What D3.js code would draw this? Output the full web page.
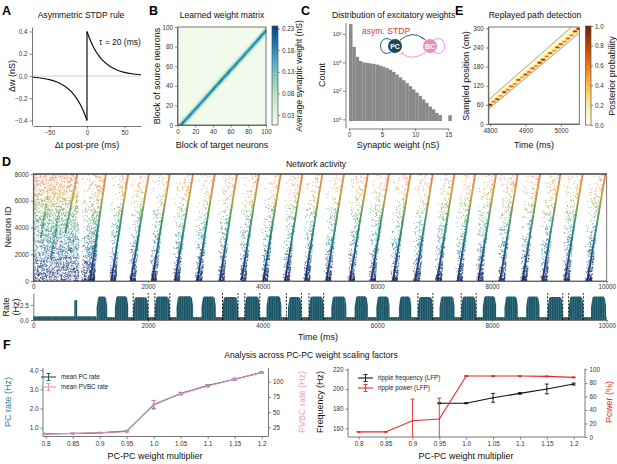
<!DOCTYPE html>
<html><head><meta charset="utf-8">
<script src="https://cdn.jsdelivr.net/npm/d3@7"></script>
<style>
body{margin:0;background:#fff}
svg{display:block}
</style></head><body>
<svg id="fig" width="617" height="464"></svg>
<script>
// ================= DATA =================
// A: STDP rule
const stdpNegT  = [-72,-60,-50,-40,-30,-20,-15,-10,-5,-2,0];
const stdpNegDw = [-0.011,-0.02,-0.033,-0.054,-0.089,-0.147,-0.189,-0.243,-0.312,-0.362,-0.4];
const stdpPosT  = [0,2,5,10,15,20,30,40,50,60,72];
const stdpPosDw = [0.4,0.362,0.312,0.243,0.189,0.147,0.089,0.054,0.033,0.02,0.011];
const stdpTicksX = [-50,0,50];
const stdpTicksY = [-0.4,-0.2,0,0.2,0.4];

// B: weight matrix band profile (target - source offset -> avg weight)
const bandOffsets = [-2,-1,0,1,2,3,4,5,6,7,8,9];
const bandWeights = [0.022,0.035,0.06,0.1,0.15,0.19,0.2,0.17,0.12,0.08,0.05,0.03];
const matrixBaseline = 0.013;
const matrixTicks = [0,20,40,60,80,100];
const weightCbTicks = [0.03,0.08,0.13,0.18,0.23];

// C: histogram of excitatory weights (0.5 nS bins, log10 counts)
const histBinStart = [0,0.5,1,1.5,2,2.5,3,3.5,4,4.5,5,5.5,6,6.5,7,7.5,8,8.5,9,9.5,10,10.5,11,11.5,12,12.5,13,13.5,15];
const histLog10Count = [6.7,5.1,4.4,4.1,4.0,3.97,3.93,3.9,3.85,3.78,3.7,3.6,3.48,3.33,3.15,2.95,2.75,2.55,2.33,2.1,1.88,1.65,1.4,1.15,0.9,0.7,0.45,0.3,0.28];
const histTicksX = [0,5,10,15];
const histTicksY = [1,1e2,1e4,1e6];

// E: replay posterior
const replayT   = [4800,4810,4820,4830,4840,4850,4860,4870,4880,4890,4900,4910,4920,4930,4940,4950,4960,4970,4980,4990,5000,5010,5020,5030,5040,5050];
const replayPos = [60,70,78,88,100,108,118,126,138,146,155,163,174,182,192,202,212,222,230,240,250,258,268,278,290,298];
const replayP   = [0.95,0.6,0.8,0.5,0.85,0.6,0.7,0.55,0.75,0.5,0.8,0.6,0.7,0.55,0.85,0.9,0.6,0.75,0.5,0.8,0.7,0.55,0.65,0.6,0.85,0.95];
const boundUpper = [[4795,75],[5030,304]];
const boundLower = [[4795,46],[5052,285]];
const replayTicksX = [4800,4900,5000];
const replayTicksY = [0,60,120,180,240,300];
const postTicks = [0,0.2,0.4,0.6,0.8,1.0];

// D: network activity
const seqStart = [990,1360,1700,2070,2470,2860,3250,3630,4010,4390,4740,5110,5520,5890,6270,6660,7040,7400,7760,8140,8530,8880,9270,9660];
const seqEnd   = [1266,1655,2015,2381,2787,3165,3554,3937,4315,4693,5041,5418,5836,6202,6580,6968,7346,7707,8072,8449,8839,9193,9581,9977];
const cloudLeft= [820,1320,1660,2030,2430,2820,3210,3590,3970,4350,4700,5070,5480,5850,6230,6620,7000,7360,7720,8100,8490,8840,9230,9620];
const cloudDots= [1000,420,400,400,400,400,400,400,400,400,400,400,400,400,400,400,400,400,400,400,400,400,400,400];
const earlyRegion = [0, 800, 780, 3000]; // tStart, tEnd at bottom, tEnd at top, dot count
const partialSeq = [[560,3600,767,8000],[300,1600,450,5200],[130,3200,250,6400]];
const burstStart = [1104,1423,1742,2120,2498,2933,3300,3688,4066,4442,4808,5198,5604,5982,6376,6707,7085,7463,7839,8217,8595,8971,9337,9727];
const burstEnd   = [1289,1655,2003,2381,2787,3183,3571,3949,4327,4676,5064,5459,5836,6213,6592,6968,7346,7724,8072,8449,8827,9233,9593,9988];
const burstPeak  = [3.9,3.95,3.8,3.9,3.95,3.9,3.85,3.9,3.95,3.85,3.9,3.9,3.95,3.9,3.9,3.85,3.9,3.9,3.95,3.9,3.9,3.85,3.9,3.9];
const rateBaseline = [[0,1100,0.62],[1100,10000,0.48]];
const rateSpike = [715,765,3.3];
const detStart = [1742,2120,3300,3688,4414,4808,6707,7463,8971,9337];
const detEnd   = [2003,2381,3571,3949,4676,5064,6968,7724,9233,9593];
const timeTicks = [0,2000,4000,6000,8000,10000];
const idTicks = [0,2000,4000,6000,8000];
const rateTicks = [0,2.5];

// F: scaling analysis
const mult = [0.8,0.85,0.9,0.95,1.0,1.05,1.1,1.15,1.2];
const pcRate = [0.68,0.7,0.73,0.82,2.2,2.78,3.2,3.52,3.88];
const pcErr  = [0.02,0.02,0.02,0.03,0.22,0.06,0.05,0.05,0.03];
const pvbcRate = [14,15,16,18,63,80,93,104,115];
const pvbcErr  = [1,1,1,1.5,6,2,2,2,1];
const rippleFreq    = [null,null,null,185.5,185.5,191,195.5,200,205];
const rippleFreqErr = [0,0,0,0.5,0.5,4.5,0.8,5,1];
const ripplePower    = [7.5,7.5,24,26.5,90,90,90,89.5,88];
const ripplePowerErr = [0.5,0.5,32,31,0.5,0.5,0.5,0.5,0.7];
const multTicks = [0.8,0.85,0.9,0.95,1.0,1.05,1.1,1.15,1.2];
const multLabels = ["0.8","0.85","0.9","0.95","1.0","1.05","1.1","1.15","1.2"];
const pcTicks = [1,2,3,4], pvbcTicks = [25,50,75,100];
const freqTicks = [160,180,200,220], powerTicks = [0,20,40,60,80,100];

// ================= DRAWING =================
const FONT = '"Liberation Sans", Arial, Helvetica, sans-serif';
const svg = d3.select("#fig").attr("font-family", FONT);
const defs = svg.append("defs");
const TICK = 6.3, LAB = 9, TITLE = 8.6;
const fmtInt = d3.format("d");

function text(x,y,s,o={}){
  const t = svg.append("text").attr("x",x).attr("y",y).text(s)
    .attr("font-size",o.size||LAB).attr("fill",o.color||"#111")
    .attr("text-anchor",o.anchor||"middle");
  if(o.bold) t.attr("font-weight","bold");
  return t;
}
function vtext(x,y,s,o={}){
  return svg.append("text").attr("transform",`translate(${x},${y}) rotate(-90)`)
    .attr("text-anchor","middle").attr("dominant-baseline","central")
    .attr("font-size",o.size||LAB).attr("fill",o.color||"#111").text(s);
}
function styleAxis(g){
  g.attr("font-family",FONT).attr("font-size",TICK).attr("color","#333");
  g.selectAll(".domain").attr("stroke","#555").attr("stroke-width",0.8);
  g.selectAll(".tick line").attr("stroke","#555").attr("stroke-width",0.7);
  return g;
}
function axis(gen, tx, ty){
  return styleAxis(svg.append("g").attr("transform",`translate(${tx},${ty})`).call(gen));
}

// Panel letters
[["A",2,15],["B",149,15],["C",301,15],["E",455,15],["D",2,166],["F",3,349]].forEach(([l,x,y])=>
  text(x,y,l,{size:12.5,bold:true,anchor:"start",color:"#000"}));

// ---------- A ----------
{
  const x = d3.scaleLinear().domain([-72,72]).range([33,141]);
  const y = d3.scaleLinear().domain([-0.44,0.44]).range([125,27]);
  svg.append("line").attr("x1",x(-72)).attr("x2",x(72)).attr("y1",y(0)).attr("y2",y(0))
    .attr("stroke","#ccc").attr("stroke-width",0.9);
  const line = d3.line().x(d=>x(d[0])).y(d=>y(d[1])).curve(d3.curveMonotoneX);
  svg.append("path").attr("d",line(d3.zip(stdpNegT,stdpNegDw))).attr("fill","none").attr("stroke","#111").attr("stroke-width",1.2);
  svg.append("path").attr("d",line(d3.zip(stdpPosT,stdpPosDw))).attr("fill","none").attr("stroke","#111").attr("stroke-width",1.2);
  svg.append("line").attr("x1",x(0)).attr("x2",x(0)).attr("y1",y(stdpNegDw[stdpNegDw.length-1])).attr("y2",y(stdpPosDw[0]))
    .attr("stroke","#111").attr("stroke-width",1.2);
  axis(d3.axisLeft(y).tickValues(stdpTicksY).tickFormat(d3.format(".1f")).tickSize(2.5).tickSizeOuter(0).tickPadding(2),32,0);
  axis(d3.axisBottom(x).tickValues(stdpTicksX).tickFormat(fmtInt).tickSize(2.5).tickSizeOuter(0).tickPadding(2),0,126);
  text(81,18,"Asymmetric STDP rule",{size:TITLE});
  text(99,45,"τ = 20 (ms)",{size:8.5,anchor:"start"});
  vtext(12,76,"Δw (nS)");
  text(87,148,"Δt post-pre (ms)");
}

// ---------- B ----------
{
  const x = d3.scaleLinear().domain([0,100]).range([177.5,266]);
  const y = d3.scaleLinear().domain([0,100]).range([125,27]);
  const c = d3.scaleSequential(d3.interpolateGnBu).domain([0.007,0.236]);
  svg.append("rect").attr("x",x(0)).attr("y",y(100)).attr("width",x(100)-x(0)).attr("height",y(0)-y(100)).attr("fill",c(matrixBaseline));
  const cells = [];
  for(let s=0;s<100;s++) bandOffsets.forEach((o,i)=>{ const t=s+o; if(t>=0&&t<100) cells.push([t,s,bandWeights[i]]); });
  svg.append("g").selectAll("rect").data(cells).join("rect")
    .attr("x",d=>x(d[0])).attr("y",d=>y(d[1]+1)-0.15).attr("width",x(1)-x(0)+0.3).attr("height",y(0)-y(1)+0.3)
    .attr("fill",d=>c(d[2]));
  svg.append("rect").attr("x",x(0)).attr("y",y(100)).attr("width",x(100)-x(0)).attr("height",y(0)-y(100))
    .attr("fill","none").attr("stroke","#555").attr("stroke-width",0.8);
  axis(d3.axisLeft(y).tickValues(matrixTicks).tickSize(2.5).tickSizeOuter(0).tickPadding(2),x(0),0);
  axis(d3.axisBottom(x).tickValues(matrixTicks).tickSize(2.5).tickSizeOuter(0).tickPadding(2),0,y(0));
  const cy = d3.scaleLinear().domain([0.007,0.236]).range([125,26]);
  const g = defs.append("linearGradient").attr("id","gnbu").attr("x1",0).attr("x2",0).attr("y1",1).attr("y2",0);
  d3.range(0,1.001,0.1).forEach(t=>g.append("stop").attr("offset",t).attr("stop-color",d3.interpolateGnBu(t)));
  svg.append("rect").attr("x",272).attr("y",26).attr("width",6).attr("height",99).attr("fill","url(#gnbu)").attr("stroke","#555").attr("stroke-width",0.7);
  axis(d3.axisRight(cy).tickValues(weightCbTicks).tickFormat(d3.format(".2f")).tickSize(2).tickSizeOuter(0).tickPadding(2),278,0)
    .select(".domain").remove();
  text(222,18,"Learned weight matrix",{size:TITLE});
  vtext(157,76,"Block of source neurons");
  text(222,148,"Block of target neurons");
  vtext(299,76,"Average synaptic weight (nS)",{size:8.6});
}

// ---------- C ----------
{
  const x = d3.scaleLinear().domain([0,15]).range([349,448.3]);
  const y = d3.scaleLog().domain([Math.pow(10,-0.6),Math.pow(10,6.8)]).range([127.8,22.7]);
  svg.append("g").selectAll("rect").data(d3.zip(histBinStart,histLog10Count)).join("rect")
    .attr("x",d=>x(d[0])).attr("width",x(0.5)-x(0)+0.2)
    .attr("y",d=>y(Math.pow(10,d[1]))).attr("height",d=>y(0.75)-y(Math.pow(10,d[1])))
    .attr("fill","#8a8a8a");
  const ya = svg.append("g").attr("transform","translate(345.5,0)")
    .call(d3.axisLeft(y).tickValues(histTicksY).tickFormat(()=>"").tickSize(2.5).tickSizeOuter(0));
  styleAxis(ya);
  ya.selectAll(".tick").each(function(d){
    const t = d3.select(this).append("text").attr("x",-4).attr("dy","0.32em").attr("text-anchor","end").attr("fill","#333").attr("font-size",5.8);
    t.append("tspan").text("10");
    t.append("tspan").attr("dy","-0.45em").attr("font-size",4.2).text(Math.round(Math.log10(d)));
  });
  axis(d3.axisBottom(x).tickValues(histTicksX).tickSize(2.5).tickSizeOuter(0).tickPadding(2),0,128.5);
  text(332,18,"Distribution of excitatory weights",{size:TITLE,anchor:"start"});
  vtext(322,75,"Count");
  text(398,148,"Synaptic weight (nS)");
  text(362,34,"asym. STDP",{size:8.6,anchor:"start",color:"#e8323c"});
  const teal="#1c4a5c", pink="#e58fc4";
  const arc = (d,col)=>svg.append("path").attr("d",d).attr("fill","none").attr("stroke",col).attr("stroke-width",0.9);
  arc("M391,39.8 C377,33 377,59 391,52.2",teal);
  arc("M400,40.2 Q412,30 423.5,38.5",teal); arc("M421.3,37.5 L425.5,39.8",teal);
  arc("M425.6,52 Q413,62 401.5,53.2",pink); arc("M399.5,54.2 L403.7,52",pink);
  arc("M434,39.8 C448,33 448,59 434,52.2",pink);
  svg.append("circle").attr("cx",395).attr("cy",46).attr("r",7).attr("fill",teal);
  svg.append("circle").attr("cx",430).attr("cy",46).attr("r",7).attr("fill",pink);
  text(395,48.6,"PC",{size:7,color:"#fff",bold:true});
  text(430,48.6,"BC",{size:7,color:"#fff",bold:true});
}

// ---------- E ----------
{
  const x = d3.scaleLinear().domain([4795,5052]).range([488.3,579.3]);
  const y = d3.scaleLinear().domain([0,304]).range([124,27]);
  const c = d3.scaleSequential(d3.interpolateYlOrBr).domain([0,1]);
  defs.append("clipPath").attr("id","clipE").append("rect").attr("x",x(4795)).attr("y",y(304)).attr("width",x(5052)-x(4795)).attr("height",y(0)-y(304));
  const gE = svg.append("g").attr("clip-path","url(#clipE)");
  const poly = [boundUpper[0],boundUpper[1],[5052,304],boundLower[1],boundLower[0]];
  gE.append("path").attr("d",d3.line().x(d=>x(d[0])).y(d=>y(d[1]))(poly)+"Z").attr("fill",c(0.06));
  const blobs = d3.zip(replayT,replayPos,replayP);
  gE.append("g").selectAll("rect").data(blobs).join("rect")
    .attr("x",d=>x(d[0]-9)).attr("width",x(18)-x(0)).attr("y",d=>y(d[1]+6)).attr("height",y(0)-y(12))
    .attr("rx",2.5).attr("fill",d=>c(d[2]*0.35));
  gE.append("g").selectAll("rect").data(blobs).join("rect")
    .attr("x",d=>x(d[0]-6)).attr("width",x(12)-x(0)).attr("y",d=>y(d[1]+2.8)).attr("height",y(0)-y(5.6))
    .attr("rx",1.2).attr("fill",d=>c(d[2]));
  [boundUpper,boundLower].forEach(b=>gE.append("line").attr("x1",x(b[0][0])).attr("y1",y(b[0][1])).attr("x2",x(b[1][0])).attr("y2",y(b[1][1]))
    .attr("stroke","#888").attr("stroke-width",0.8));
  svg.append("rect").attr("x",x(4795)).attr("y",y(304)).attr("width",x(5052)-x(4795)).attr("height",y(0)-y(304))
    .attr("fill","none").attr("stroke","#555").attr("stroke-width",0.8);
  axis(d3.axisLeft(y).tickValues(replayTicksY).tickSize(2.5).tickSizeOuter(0).tickPadding(2),x(4795),0);
  axis(d3.axisBottom(x).tickValues(replayTicksX).tickFormat(fmtInt).tickSize(2.5).tickSizeOuter(0).tickPadding(2),0,y(0));
  const cy = d3.scaleLinear().domain([0,1]).range([125,26]);
  const g = defs.append("linearGradient").attr("id","ylorbr").attr("x1",0).attr("x2",0).attr("y1",1).attr("y2",0);
  d3.range(0,1.001,0.1).forEach(t=>g.append("stop").attr("offset",t).attr("stop-color",d3.interpolateYlOrBr(t)));
  svg.append("rect").attr("x",585.5).attr("y",26).attr("width",5.5).attr("height",99).attr("fill","url(#ylorbr)").attr("stroke","#555").attr("stroke-width",0.7);
  axis(d3.axisRight(cy).tickValues(postTicks).tickFormat(d3.format(".1f")).tickSize(2).tickSizeOuter(0).tickPadding(2),591,0)
    .select(".domain").remove();
  text(535,18,"Replayed path detection",{size:TITLE});
  vtext(466,76,"Sampled position (cm)");
  text(534,148,"Time (ms)");
  vtext(612,76,"Posterior probability");
}

// ---------- D ----------
{
  const x = d3.scaleLinear().domain([0,10000]).range([33.3,606.7]);
  const y = d3.scaleLinear().domain([0,8000]).range([281,174]);
  const yr = d3.scaleLinear().domain([0,4.5]).range([320,293]);
  const idColor = d3.scaleLinear().domain([0,1600,3200,4800,6400,8000])
    .range(["#1e2a69","#1d4f87","#1f7f86","#4f9d66","#c7a23c","#f57f55"]);
  defs.append("clipPath").attr("id","clipR").append("rect").attr("x",x(0)).attr("y",y(8000)).attr("width",x(10000)-x(0)).attr("height",y(0)-y(8000));
  // deterministic integer hash used only to scatter spike texture inside the regions read above
  const hash = i => { let h = Math.imul(i ^ 0x9e3779b9, 0x85ebca6b); h ^= h >>> 13; h = Math.imul(h, 0xc2b2ae35); h ^= h >>> 16; return (h >>> 0) / 4294967296; };
  const q = i => [hash(2*i+1), hash(2*i+2)];
  const spikes = [];
  {
    const [t0,tb,tt,n] = earlyRegion;
    for(let i=0;i<n;i++){ const [u,v]=q(i+11); const f=Math.pow(v,1.15);
      const te = tb+(tt-tb)*f; spikes.push([t0+u*(te-t0), f*8000, 0.7]); }
  }
  partialSeq.forEach((p,k)=>{ for(let i=0;i<110;i++){ const [u,v]=q(i+50000+k*997);
      spikes.push([p[0]+(p[2]-p[0])*v+(u-0.5)*30, p[1]+(p[3]-p[1])*v, 0.8]); }});
  seqStart.forEach((s,k)=>{
    const e=seqEnd[k], L=cloudLeft[k];
    for(let i=0;i<cloudDots[k];i++){
      const [u,v]=q(i+100000+k*7919);
      const f=Math.pow(v,1.9);
      const left = L + 25*f;
      const right = s + (e-s)*f + 80*Math.pow(1-f,2);
      spikes.push([left+Math.sqrt(u)*(right-left), f*8000, 0.8]);
    }
  });
  const gR = svg.append("g").attr("clip-path","url(#clipR)");
  gR.append("g").selectAll("rect").data(spikes).join("rect")
    .attr("x",d=>x(d[0])-0.45).attr("y",d=>y(d[1])-0.45).attr("width",0.9).attr("height",0.9)
    .attr("fill",d=>idColor(d[1])).attr("opacity",d=>d[2]);
  const lg = defs.append("linearGradient").attr("id","idGrad").attr("gradientUnits","userSpaceOnUse")
    .attr("x1",0).attr("x2",0).attr("y1",y(0)).attr("y2",y(8000));
  idColor.domain().forEach(v=>lg.append("stop").attr("offset",v/8000).attr("stop-color",idColor(v)));
  gR.append("g").selectAll("line").data(d3.zip(seqStart,seqEnd)).join("line")
    .attr("x1",d=>x(d[0])).attr("y1",y(0)).attr("x2",d=>x(d[1])).attr("y2",y(8000))
    .attr("stroke","url(#idGrad)").attr("stroke-width",1.8);
  gR.append("line").attr("x1",x(partialSeq[0][0])).attr("y1",y(partialSeq[0][1])).attr("x2",x(partialSeq[0][2])).attr("y2",y(partialSeq[0][3]))
    .attr("stroke","url(#idGrad)").attr("stroke-width",1.3);
  svg.append("rect").attr("x",x(0)).attr("y",y(8000)).attr("width",x(10000)-x(0)).attr("height",y(0)-y(8000))
    .attr("fill","none").attr("stroke","#555").attr("stroke-width",0.8);
  svg.append("line").attr("x1",x(0)).attr("x2",x(10000)).attr("y1",y(8000)).attr("y2",y(8000)).attr("stroke","#222").attr("stroke-width",1);
  axis(d3.axisLeft(y).tickValues(idTicks).tickFormat(fmtInt).tickSize(2.5).tickSizeOuter(0).tickPadding(2),x(0),0);
  axis(d3.axisBottom(x).tickValues(timeTicks).tickFormat(fmtInt).tickSize(2).tickSizeOuter(0).tickPadding(2),0,y(0));
  text(316,167,"Network activity",{size:TITLE});
  vtext(8,227,"Neuron ID");

  const pat = defs.append("pattern").attr("id","rateBars").attr("patternUnits","userSpaceOnUse").attr("width",2.3).attr("height",40);
  pat.append("rect").attr("width",2.3).attr("height",40).attr("fill","#1e5566");
  pat.append("rect").attr("x",1.7).attr("width",0.6).attr("height",40).attr("fill","#3f7d8d");
  const gRate = svg.append("g");
  gRate.selectAll("rect.base").data(rateBaseline).join("rect").attr("class","base")
    .attr("x",d=>x(d[0])).attr("width",d=>x(d[1])-x(d[0])).attr("y",d=>yr(d[2])).attr("height",d=>yr(0)-yr(d[2]))
    .attr("fill","url(#rateBars)");
  gRate.append("rect").attr("x",x(rateSpike[0])).attr("width",x(rateSpike[1])-x(rateSpike[0]))
    .attr("y",yr(rateSpike[2])).attr("height",yr(0)-yr(rateSpike[2])).attr("fill","url(#rateBars)");
  const bursts = d3.zip(burstStart,burstEnd,burstPeak);
  gRate.selectAll("path.burst").data(bursts).join("path").attr("class","burst")
    .attr("d",d=>d3.line()([[x(d[0]),yr(0)],[x(d[0]),yr(d[2]*0.55)],[x(d[0]+25),yr(d[2]*0.95)],[x(d[0]+45),yr(d[2])],
      [x(d[1]-45),yr(d[2])],[x(d[1]-20),yr(d[2]*0.93)],[x(d[1]),yr(d[2]*0.6)],[x(d[1]),yr(0)]])+"Z")
    .attr("fill","url(#rateBars)");
  const dets = detStart.concat(detEnd);
  gRate.selectAll("line.det").data(dets).join("line").attr("class","det")
    .attr("x1",d=>x(d)).attr("x2",d=>x(d)).attr("y1",yr(0)).attr("y2",yr(4.5))
    .attr("stroke","#111").attr("stroke-width",0.9).attr("stroke-dasharray","2.2,1.4");
  axis(d3.axisLeft(yr).tickValues(rateTicks).tickFormat(d3.format(".1f")).tickSize(2.5).tickSizeOuter(0).tickPadding(2),x(0),0);
  axis(d3.axisBottom(x).tickValues(timeTicks).tickFormat(fmtInt).tickSize(2).tickSizeOuter(0).tickPadding(2),0,yr(0));
  vtext(6,307,"Rate");
  vtext(16,307,"(Hz)");
  text(318,340,"Time (ms)");
}

// ---------- F ----------
function errbars(g,x,y,xs,ys,es,col,lo){
  const d = xs.map((m,i)=>[m,ys[i],es[i]]).filter(d=>d[1]!=null);
  g.append("g").selectAll("line").data(d).join("line")
    .attr("x1",d=>x(d[0])).attr("x2",d=>x(d[0])).attr("y1",d=>y(Math.max(lo,d[1]-d[2]))).attr("y2",d=>y(d[1]+d[2]))
    .attr("stroke",col).attr("stroke-width",0.9);
  ["top","bot"].forEach(k=>g.append("g").selectAll("line").data(d.filter(v=>!(k==="bot"&&v[1]-v[2]<lo))).join("line")
    .attr("x1",d=>x(d[0])-2).attr("x2",d=>x(d[0])+2)
    .attr("y1",d=>y(k==="top"?d[1]+d[2]:d[1]-d[2])).attr("y2",d=>y(k==="top"?d[1]+d[2]:d[1]-d[2]))
    .attr("stroke",col).attr("stroke-width",0.9));
}
function series(x,y,xs,ys,es,col,lo){
  const g = svg.append("g");
  g.append("path").attr("d",d3.line().defined(d=>d[1]!=null).x(d=>x(d[0])).y(d=>y(d[1]))(d3.zip(xs,ys)))
    .attr("fill","none").attr("stroke",col).attr("stroke-width",1.1);
  errbars(g,x,y,xs,ys,es,col,lo);
  g.append("g").selectAll("circle").data(d3.zip(xs,ys).filter(d=>d[1]!=null)).join("circle")
    .attr("cx",d=>x(d[0])).attr("cy",d=>y(d[1])).attr("r",0.9).attr("fill",col);
}
function legendItem(x0,y0,col,label){
  svg.append("line").attr("x1",x0).attr("x2",x0+15).attr("y1",y0).attr("y2",y0).attr("stroke",col).attr("stroke-width",1.1);
  svg.append("line").attr("x1",x0+7.5).attr("x2",x0+7.5).attr("y1",y0-3.5).attr("y2",y0+3.5).attr("stroke",col).attr("stroke-width",0.9);
  [-3.5,3.5].forEach(o=>svg.append("line").attr("x1",x0+5.5).attr("x2",x0+9.5).attr("y1",y0+o).attr("y2",y0+o).attr("stroke",col).attr("stroke-width",0.9));
  text(x0+20,y0+2.2,label,{size:6.3,anchor:"start",color:"#222"});
}
text(311,358,"Analysis across PC-PC weight scaling factors",{size:TITLE});
{
  const x = d3.scaleLinear().domain([0.8,1.2]).range([45.7,261.7]);
  const yl = d3.scaleLinear().domain([1,4]).range([427.7,370.1]);
  const yrr = d3.scaleLinear().domain([25,100]).range([427.3,381.7]);
  const sp = (x1,y1,x2,y2)=>svg.append("line").attr("x1",x1).attr("y1",y1).attr("x2",x2).attr("y2",y2).attr("stroke","#555").attr("stroke-width",0.8);
  sp(43,368,43,436.5); sp(268.5,368,268.5,436.5); sp(43,436.5,268.5,436.5);
  const ax = g=>{g.select(".domain").remove(); return g;};
  ax(axis(d3.axisLeft(yl).tickValues(pcTicks).tickSize(2.5).tickPadding(2),43,0));
  ax(axis(d3.axisRight(yrr).tickValues(pvbcTicks).tickSize(2.5).tickPadding(2),268.5,0));
  ax(axis(d3.axisBottom(x).tickValues(multTicks).tickFormat((d,i)=>multLabels[i]).tickSize(2.5).tickPadding(2.5),0,436.5));
  series(x,yl,mult,pcRate,pcErr,"#1d4f5f",0);
  series(x,yrr,mult,pvbcRate,pvbcErr,"#e48cc0",0);
  legendItem(41,377,"#1d4f5f","mean PC rate");
  legendItem(41,387,"#e48cc0","mean PVBC rate");
  vtext(8,402,"PC rate (Hz)",{color:"#2f7f96"});
  vtext(302,402,"PVBC rate (Hz)",{color:"#e79ccb"});
  text(155,459,"PC-PC weight multiplier");
}
{
  const x = d3.scaleLinear().domain([0.8,1.2]).range([358.7,573.7]);
  const yl = d3.scaleLinear().domain([160,220]).range([428.3,369.3]);
  const yrr = d3.scaleLinear().domain([0,100]).range([437,369.3]);
  const sp = (x1,y1,x2,y2)=>svg.append("line").attr("x1",x1).attr("y1",y1).attr("x2",x2).attr("y2",y2).attr("stroke","#555").attr("stroke-width",0.8);
  sp(348,368.5,348,437); sp(585,368.5,585,437); sp(348,437,585,437);
  const ax = g=>{g.select(".domain").remove(); return g;};
  ax(axis(d3.axisLeft(yl).tickValues(freqTicks).tickSize(2.5).tickPadding(2),348,0));
  ax(axis(d3.axisRight(yrr).tickValues(powerTicks).tickSize(2.5).tickPadding(2),585,0));
  ax(axis(d3.axisBottom(x).tickValues(multTicks).tickFormat((d,i)=>multLabels[i]).tickSize(2.5).tickPadding(2.5),0,437));
  series(x,yl,mult,rippleFreq,rippleFreqErr,"#111",150);
  series(x,yrr,mult,ripplePower,ripplePowerErr,"#e8272a",0);
  legendItem(358,378,"#111","ripple frequency (LFP)");
  legendItem(358,388,"#e8272a","ripple power (LFP)");
  vtext(320,402,"Frequency (Hz)");
  vtext(609,402,"Power (%)",{color:"#e8272a"});
  text(466,459,"PC-PC weight multiplier");
}
</script>
</body></html>
